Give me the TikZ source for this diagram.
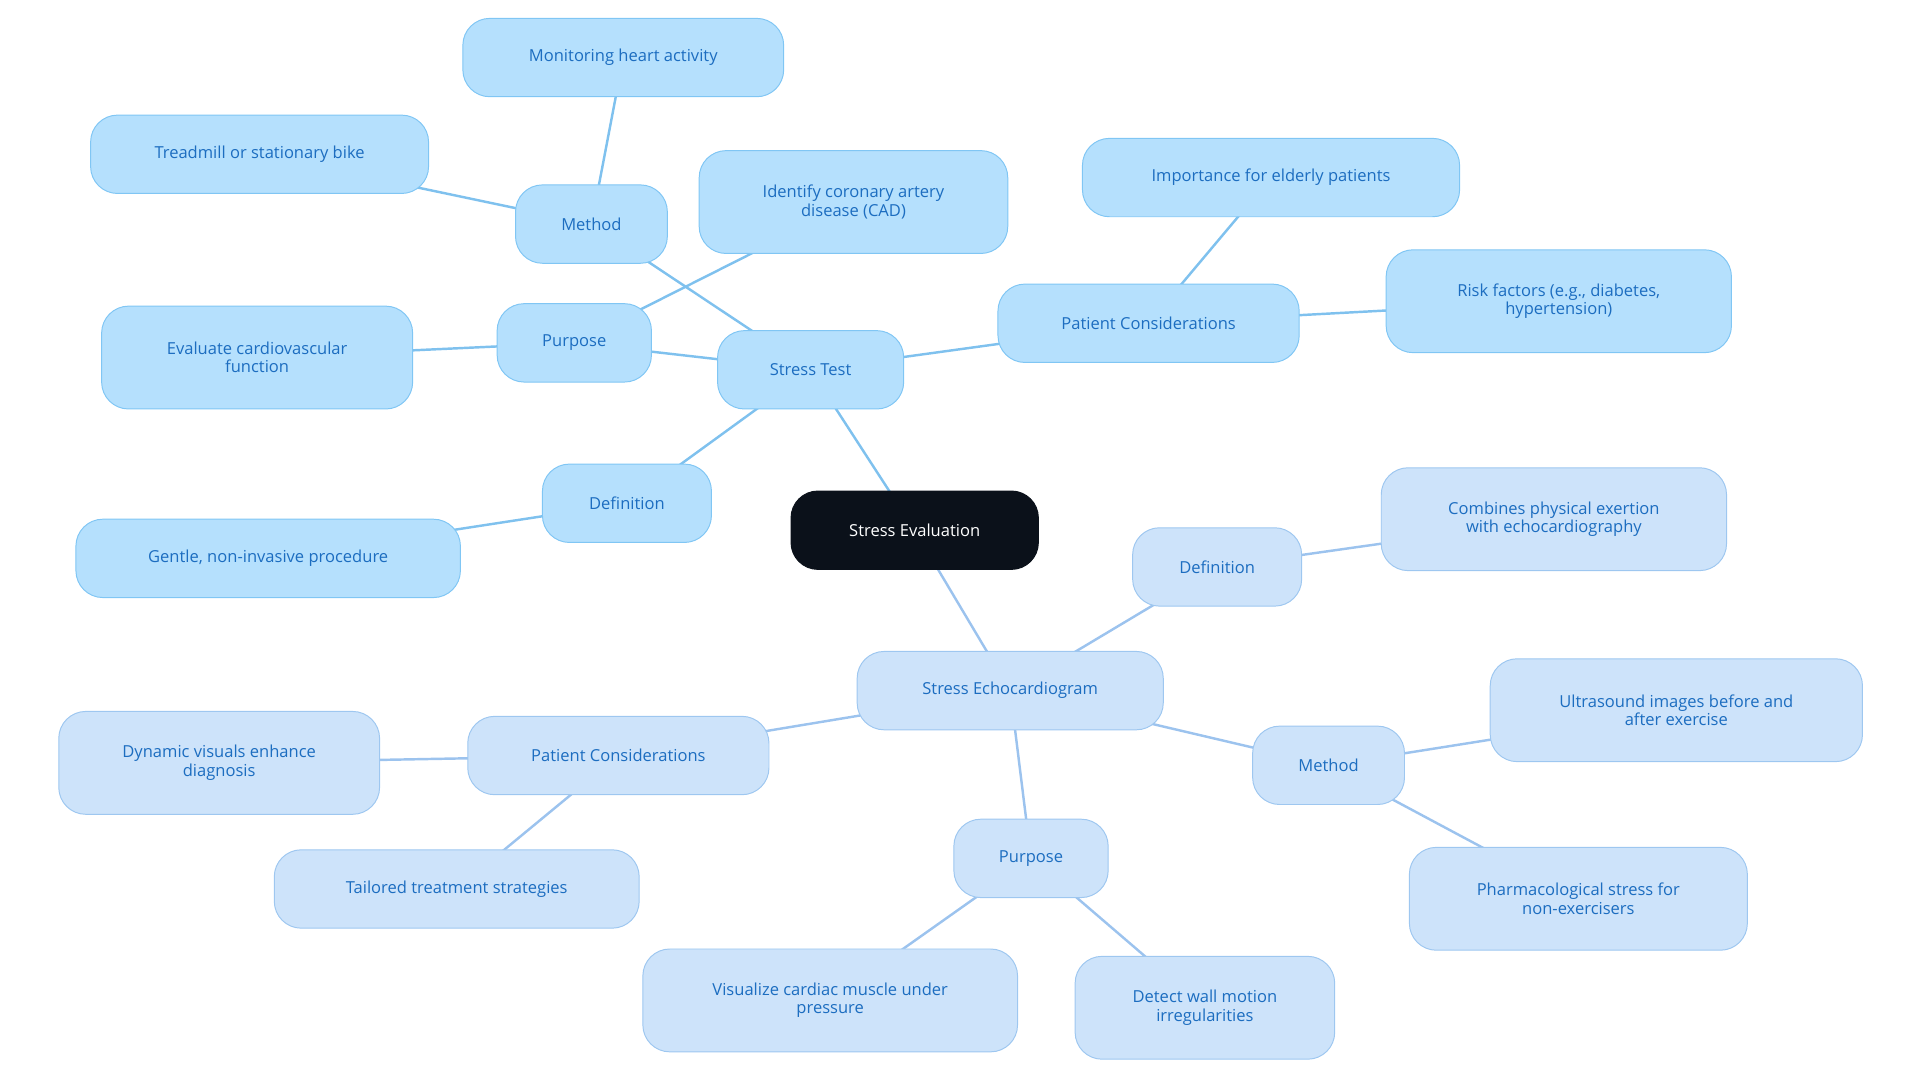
\documentclass[tikz,border=0pt]{standalone}
\usepackage{fontspec}
\setmainfont{Open Sans}
\usetikzlibrary{backgrounds}
\definecolor{tfill}{HTML}{B5E0FD}
\definecolor{tdraw}{HTML}{80C6F4}
\definecolor{efill}{HTML}{CDE3FA}
\definecolor{edraw}{HTML}{9EC7F0}
\definecolor{ttext}{HTML}{1C6DC0}
\definecolor{tline}{HTML}{7FC1EE}
\definecolor{eline}{HTML}{9CC3EE}
\definecolor{cfill}{HTML}{0B111A}
\tikzset{x=1pt,y=-1pt,
 base/.style={rounded corners=22pt,minimum height=64pt,align=center,font=\fontsize{13.5}{15}\selectfont,text=ttext,line width=0.8pt,inner sep=2pt},
 tb/.style={base,fill=tfill,draw=tdraw},
 eb/.style={base,fill=efill,draw=edraw},
 cb/.style={base,fill=cfill,draw=cfill,text=white},
 tl/.style={draw=tline,line width=2pt},
 el/.style={draw=eline,line width=2pt}}
\begin{document}
\begin{tikzpicture}
\useasboundingbox (0,0) rectangle (1568,884);
\node[cb,minimum width=202pt] (c) at (747,433) {Stress Evaluation};
\node[tb,minimum width=152pt] (st) at (662,302) {Stress Test};
\node[tb,minimum width=124pt] (m1) at (483,183) {Method};
\node[tb,minimum width=262pt] (mh) at (509,47) {Monitoring heart activity};
\node[tb,minimum width=276pt] (tr) at (212,126) {Treadmill or stationary bike};
\node[tb,minimum width=252pt,minimum height=84pt] (cad) at (697,165) {Identify coronary artery\\disease (CAD)};
\node[tb,minimum width=126pt] (p1) at (469,280) {Purpose};
\node[tb,minimum width=254pt,minimum height=84pt] (ev) at (210,292) {Evaluate cardiovascular\\function};
\node[tb,minimum width=138pt] (d1) at (512,411) {Definition};
\node[tb,minimum width=314pt] (ge) at (219,456) {Gentle, non-invasive procedure};
\node[tb,minimum width=246pt] (pc1) at (938,264) {Patient Considerations};
\node[tb,minimum width=308pt] (im) at (1038,145) {Importance for elderly patients};
\node[tb,minimum width=282pt,minimum height=84pt] (rf) at (1273,246) {Risk factors (e.g., diabetes,\\hypertension)};
\node[eb,minimum width=250pt] (se) at (825,564) {Stress Echocardiogram};
\node[eb,minimum width=138pt] (d2) at (994,463) {Definition};
\node[eb,minimum width=282pt,minimum height=84pt] (co) at (1269,424) {Combines physical exertion\\with echocardiography};
\node[eb,minimum width=124pt] (m2) at (1085,625) {Method};
\node[eb,minimum width=304pt,minimum height=84pt] (us) at (1369,580) {Ultrasound images before and\\after exercise};
\node[eb,minimum width=276pt,minimum height=84pt] (ph) at (1289,734) {Pharmacological stress for\\non-exercisers};
\node[eb,minimum width=126pt] (p2) at (842,701) {Purpose};
\node[eb,minimum width=306pt,minimum height=84pt] (vi) at (678,817) {Visualize cardiac muscle under\\pressure};
\node[eb,minimum width=212pt,minimum height=84pt] (de) at (984,823) {Detect wall motion\\irregularities};
\node[eb,minimum width=246pt] (pc2) at (505,617) {Patient Considerations};
\node[eb,minimum width=262pt,minimum height=84pt] (dy) at (179,623) {Dynamic visuals enhance\\diagnosis};
\node[eb,minimum width=298pt] (ta) at (373,726) {Tailored treatment strategies};
\begin{scope}[on background layer]
\draw[tl] (c.center)--(st.center);
\foreach \a/\b in {st/m1,m1/mh,m1/tr,st/p1,p1/cad,p1/ev,st/d1,d1/ge,st/pc1,pc1/im,pc1/rf}
 \draw[tl] (\a.center)--(\b.center);
\draw[el] (c.center)--(se.center);
\foreach \a/\b in {se/d2,d2/co,se/m2,m2/us,m2/ph,se/p2,p2/vi,p2/de,se/pc2,pc2/dy,pc2/ta}
 \draw[el] (\a.center)--(\b.center);
\end{scope}
\end{tikzpicture}
\end{document}
